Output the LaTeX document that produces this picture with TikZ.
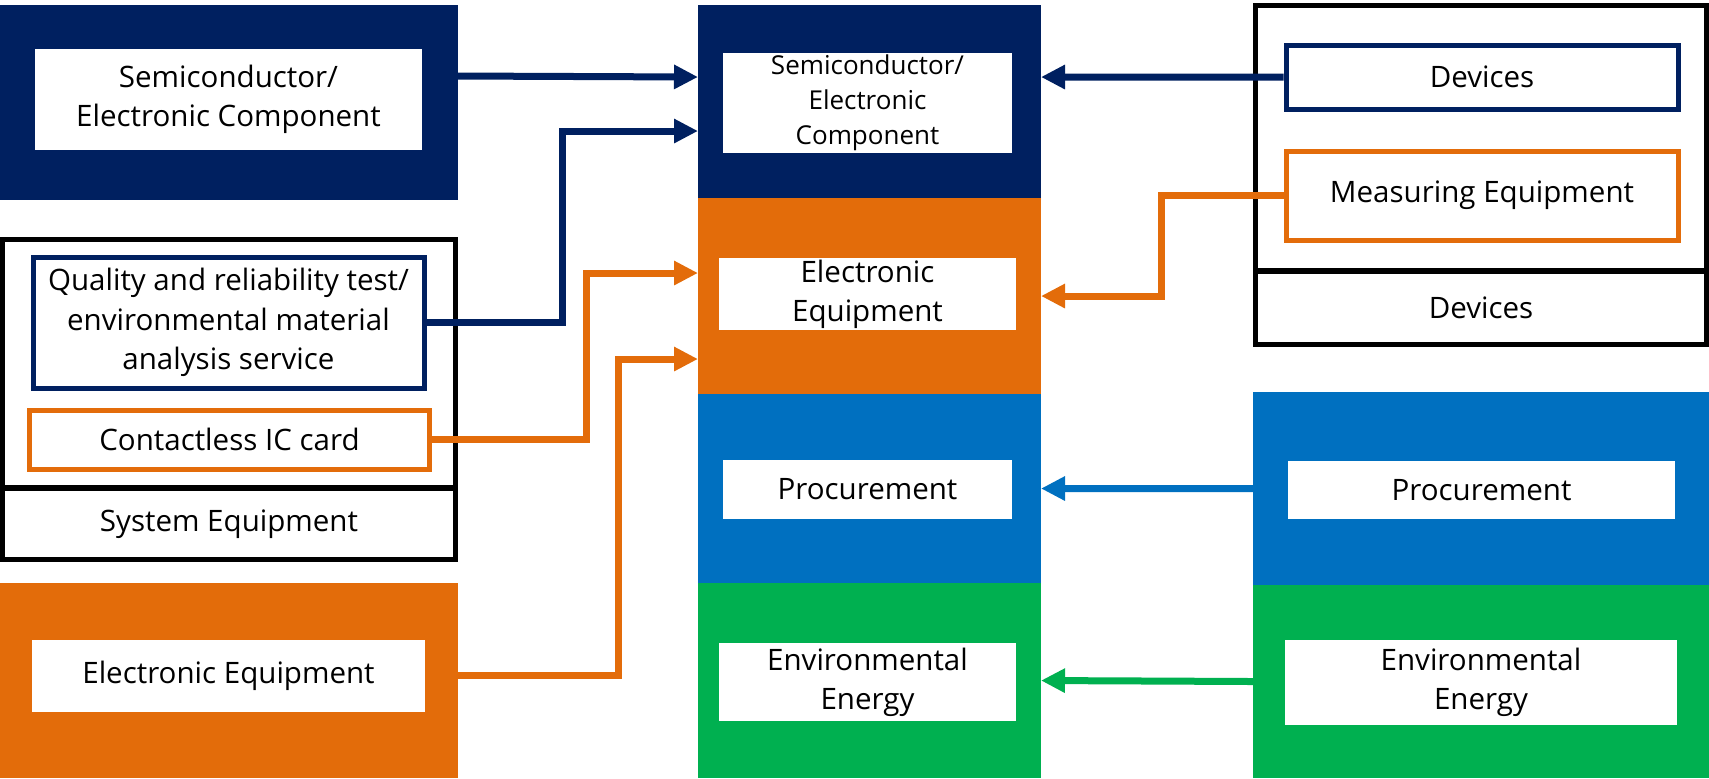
\documentclass[tikz,border=0pt]{standalone}
\usepackage{fontspec}
\setmainfont{Open Sans}
\usetikzlibrary{arrows.meta}
\usetikzlibrary{positioning}
\definecolor{navy}{HTML}{002060}
\definecolor{orng}{HTML}{E36C0A}
\definecolor{azure}{HTML}{0070C0}
\definecolor{grn}{HTML}{00B050}
\tikzstyle{block} = [rectangle, draw=none, inner sep=0pt, outer sep=0pt]
\tikzstyle{shell} = [rectangle, draw=black, line width=0.052cm, fill=white, inner sep=0pt,
                     align=center, font=\fontsize{8.4}{11.2}\selectfont]
\tikzstyle{plate} = [rectangle, fill=white, inner sep=0pt, align=center,
                     font=\fontsize{8.4}{11.2}\selectfont]
\tikzstyle{unit} = [rectangle, fill=white, line width=0.05cm, inner sep=0pt,
                    align=center, font=\fontsize{8.4}{11.2}\selectfont]
\tikzstyle{flow} = [line width=0.07cm, -{Triangle[length=0.24cm,width=0.23cm]}]

\begin{document}
\begin{tikzpicture}
    \useasboundingbox (0,0) rectangle (17.09,-7.78);
    % left column
    \node[block, fill=navy, minimum width=4.58cm, minimum height=1.95cm] (semiL) at (2.29,-1.025) {};
    \node[plate, minimum width=3.87cm, minimum height=1.01cm] (semiLtxt) at (2.285,-0.995) {Semiconductor/\\Electronic Component};
    \node[shell, minimum width=4.53cm, minimum height=2.485cm] (sysL) at (2.29,-3.6375) {};
    \node[shell, minimum width=4.53cm, minimum height=0.715cm] (sysLtxt) at (2.29,-5.2375) {System Equipment};
    \node[unit, draw=navy, minimum width=3.91cm, minimum height=1.31cm] (qualL) at (2.285,-3.225) {Quality and reliability test/\\environmental material\\analysis service};
    \node[unit, draw=orng, minimum width=3.99cm, minimum height=0.59cm] (cardL) at (2.295,-4.395) {Contactless IC card};
    \node[block, fill=orng, minimum width=4.58cm, minimum height=1.95cm] (eqL) at (2.29,-6.805) {};
    \node[plate, minimum width=3.93cm, minimum height=0.72cm] (eqLtxt) at (2.285,-6.76) {Electronic Equipment};
    % centre column
    \node[block, fill=navy, minimum width=3.43cm, minimum height=1.93cm] (semiC) at (8.695,-1.015) {};
    \node[block, fill=orng, minimum width=3.43cm, minimum height=1.96cm] (eqC) [below of=semiC,node distance=1.945cm] {};
    \node[block, fill=azure, minimum width=3.43cm, minimum height=1.89cm] (procC) [below of=eqC,node distance=1.925cm] {};
    \node[block, fill=grn, minimum width=3.43cm, minimum height=1.95cm] (envC) [below of=procC,node distance=1.92cm] {};
    \node[plate, minimum width=2.89cm, minimum height=1.0cm, font=\fontsize{7.4}{9.9}\selectfont] (semiCtxt) at (8.675,-1.03) {Semiconductor/\\Electronic\\Component};
    \node[plate, minimum width=2.97cm, minimum height=0.72cm] (eqCtxt) at (8.675,-2.94) {Electronic\\Equipment};
    \node[plate, minimum width=2.89cm, minimum height=0.59cm] (procCtxt) at (8.675,-4.895) {Procurement};
    \node[plate, minimum width=2.97cm, minimum height=0.78cm] (envCtxt) at (8.675,-6.82) {Environmental\\Energy};
    % right column
    \node[shell, minimum width=4.51cm, minimum height=2.655cm] (devR) at (14.81,-1.3825) {};
    \node[shell, minimum width=4.51cm, minimum height=0.735cm] (devRtxt) at (14.81,-3.0775) {Devices};
    \node[unit, draw=navy, minimum width=3.92cm, minimum height=0.64cm] (devRin) at (14.82,-0.77) {Devices};
    \node[unit, draw=orng, minimum width=3.92cm, minimum height=0.89cm] (measR) at (14.82,-1.955) {Measuring Equipment};
    \node[block, fill=azure, minimum width=4.56cm, minimum height=1.93cm] (procR) at (14.81,-4.885) {};
    \node[block, fill=grn, minimum width=4.56cm, minimum height=1.93cm] (envR) [below of=procR,node distance=1.93cm] {};
    \node[plate, minimum width=3.87cm, minimum height=0.58cm] (procRtxt) at (14.815,-4.90) {Procurement};
    \node[plate, minimum width=3.92cm, minimum height=0.85cm] (envRtxt) at (14.81,-6.825) {Environmental\\Energy};
    % connectors
    \draw[flow, navy] ([yshift=0.265cm]semiL.east) -- ([yshift=0.245cm]semiC.west);
    \draw[flow, navy] (qualL.east) -- ++(1.36,0) |- ([yshift=-0.295cm]semiC.west);
    \draw[flow, orng] (cardL.east) -- ++(1.55,0) |- ([yshift=0.23cm]eqC.west);
    \draw[flow, orng] ([yshift=0.055cm]eqL.east) -- ++(1.6,0) |- ([yshift=-0.63cm]eqC.west);
    \draw[flow, navy] (devRin.west) -- ([yshift=0.245cm]semiC.east);
    \draw[flow, orng] (measR.west) -- ++(-1.22,0) |- (eqC.east);
    \draw[flow, azure] (procR.west) -- (procC.east);
    \draw[flow, grn] (envR.west) -- (envC.east);
\end{tikzpicture}
\end{document}
